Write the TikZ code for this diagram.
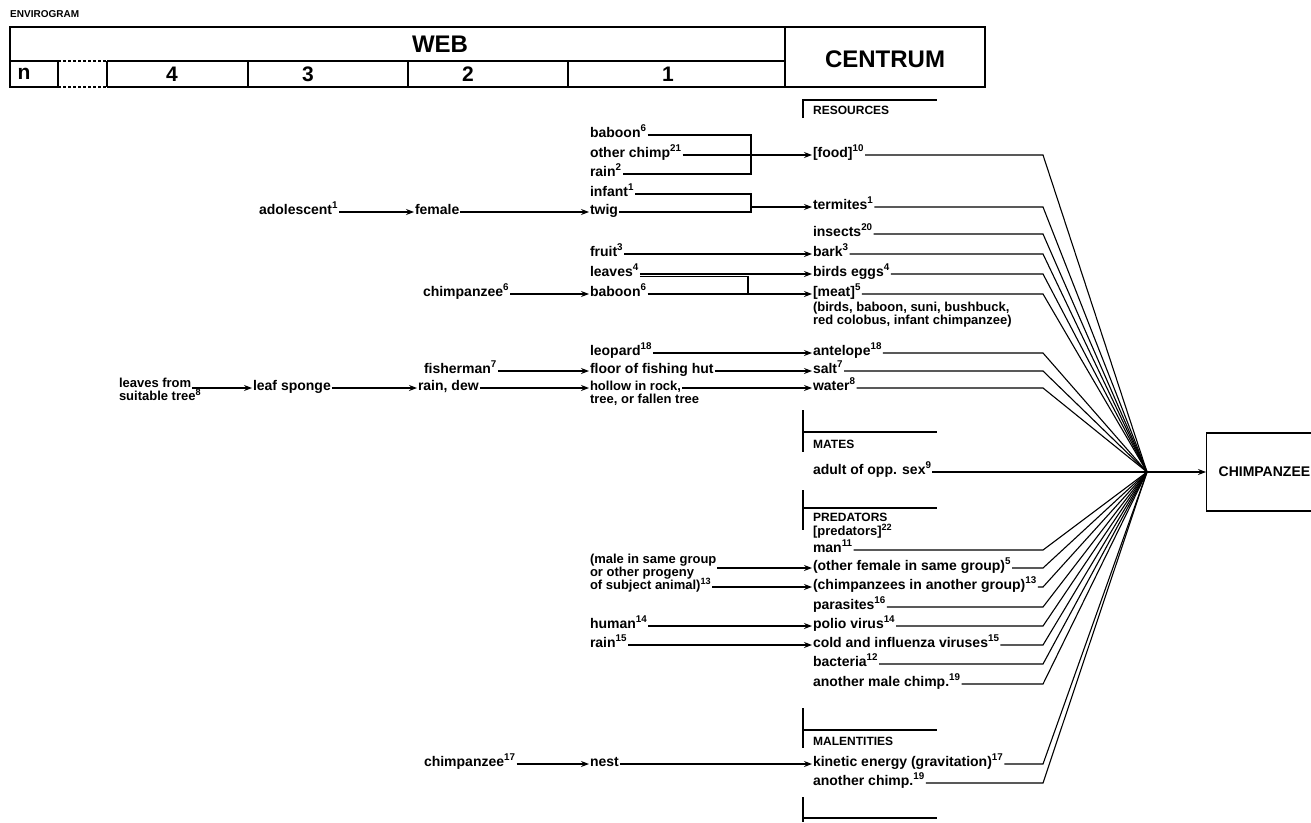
\documentclass[tikz,border=0pt]{standalone}
\usepackage{fontspec}
\setmainfont{Liberation Sans}
\usetikzlibrary{arrows.meta}
\newcommand\sn[1]{\textsuperscript{#1}}
\begin{document}
\begin{tikzpicture}[x=1pt,y=-1pt,
  lbl/.style={anchor=west,inner xsep=1pt,inner ysep=0pt,outer sep=0pt,
    text height=8pt,text depth=4pt,font=\fontsize{14}{14}\selectfont\bfseries},
  sml/.style={lbl,font=\fontsize{13}{13}\selectfont\bfseries},
  hdr/.style={anchor=west,inner sep=0pt,text height=8.6pt,text depth=0pt,
    font=\fontsize{12}{12}\selectfont\bfseries},
  big/.style={inner sep=0pt,font=\fontsize{24}{24}\selectfont\bfseries},
  cell/.style={inner sep=0pt,font=\fontsize{21}{21}\selectfont\bfseries},
  conn/.style={line width=1.1pt},
  arr/.style={conn,-{Stealth[length=8pt,width=6pt]}},
  tbl/.style={line width=1.4pt},
  brk/.style={line width=2.6pt},
  box/.style={draw,line width=1.3pt}]
\useasboundingbox (0,0) rectangle (1311,822);

% ---------- title and table ----------
\node[anchor=west,inner sep=0pt,font=\fontsize{10}{10}\selectfont\bfseries] (envi) at (10,14) {ENVIROGRAM};
\draw[tbl] (58,87) -- (10,87) -- (10,27) -- (985,27) -- (985,87) -- (107,87);
\draw[tbl] (10,61) -- (58,61) (107,61) -- (785,61);
\draw[tbl] (785,27) -- (785,87);
\draw[tbl] (58,61) -- (58,87) (107,61) -- (107,87) (248,61) -- (248,87)
           (408,61) -- (408,87) (568,61) -- (568,87);
\draw[tbl,dash pattern=on 3pt off 2pt] (58,61) -- (107,61) (58,87) -- (107,87);
\node[big] (web) at (440,44) {WEB};
\node[big] (centrum) at (885,59) {CENTRUM};
\node[cell] (cn) at (24,74) {n};
\node[cell] (c4) at (172,74) {4};
\node[cell] (c3) at (308,74) {3};
\node[cell] (c2) at (468,74) {2};
\node[cell] (c1) at (668,74) {1};

% ---------- section brackets ----------
\draw[brk] (803,118) -- (803,100) -- (937,100);
\node[hdr] (res) at (813,110) {RESOURCES};
\draw[brk] (803,410) -- (803,452) (803,432) -- (937,432);
\node[hdr] (mates) at (813,444) {MATES};
\draw[brk] (803,490) -- (803,530) (803,508) -- (937,508);
\node[hdr] (pred) at (813,517) {PREDATORS};
\draw[brk] (803,708) -- (803,748) (803,730) -- (937,730);
\node[hdr] (mal) at (813,741) {MALENTITIES};
\draw[brk] (803,797) -- (803,822) (803,818) -- (937,818);

% ---------- centrum items ----------
\node[lbl] (food) at (812,155) {[food]\sn{10}};
\node[lbl] (termites) at (812,207) {termites\sn{1}};
\node[lbl] (insects) at (812,234) {insects\sn{20}};
\node[lbl] (bark) at (812,254) {bark\sn{3}};
\node[lbl] (eggs) at (812,274) {birds eggs\sn{4}};
\node[lbl] (meat) at (812,294) {[meat]\sn{5}};
\node[sml] (meatA) at (812,309) {(birds, baboon, suni, bushbuck,};
\node[sml] (meatB) at (812,322) {red colobus, infant chimpanzee)};
\node[lbl] (antelope) at (812,353) {antelope\sn{18}};
\node[lbl] (salt) at (812,371) {salt\sn{7}};
\node[lbl] (water) at (812,388) {water\sn{8}};
\node[lbl] (adult) at (812,472) {adult of opp. sex\sn{9}};
\node[sml] (predb) at (812,533) {[predators]\sn{22}};
\node[lbl] (man) at (812,550) {man\sn{11}};
\node[lbl] (ofem) at (812,568) {(other female in same group)\sn{5}};
\node[lbl] (ogrp) at (812,587) {(chimpanzees in another group)\sn{13}};
\node[lbl] (para) at (812,607) {parasites\sn{16}};
\node[lbl] (polio) at (812,626) {polio virus\sn{14}};
\node[lbl] (cold) at (812,645) {cold and influenza viruses\sn{15}};
\node[lbl] (bact) at (812,664) {bacteria\sn{12}};
\node[lbl] (amale) at (812,684) {another male chimp.\sn{19}};
\node[lbl] (kin) at (812,764) {kinetic energy (gravitation)\sn{17}};
\node[lbl] (achimp) at (812,783) {another chimp.\sn{19}};

% ---------- web, column 1 ----------
\node[lbl] (bab1) at (589,135) {baboon\sn{6}};
\node[lbl] (oc) at (589,155) {other chimp\sn{21}};
\node[lbl] (rain2) at (589,174) {rain\sn{2}};
\node[lbl] (inf) at (589,194) {infant\sn{1}};
\node[lbl] (twig) at (589,212) {twig};
\node[lbl] (fruit) at (589,254) {fruit\sn{3}};
\node[lbl] (leaves) at (589,274) {leaves\sn{4}};
\node[lbl] (bab2) at (589,294) {baboon\sn{6}};
\node[lbl] (leop) at (589,353) {leopard\sn{18}};
\node[lbl] (floor) at (589,371) {floor of fishing hut};
\node[sml] (hollow) at (589,388) {hollow in rock,};
\node[sml] (hollowB) at (589,401) {tree, or fallen tree};
\node[sml] (maleA) at (589,561) {(male in same group};
\node[sml] (maleB) at (589,574) {or other progeny};
\node[sml] (maleC) at (589,587) {of subject animal)\sn{13}};
\node[lbl] (human) at (589,626) {human\sn{14}};
\node[lbl] (rain15) at (589,645) {rain\sn{15}};
\node[lbl] (nest) at (589,764) {nest};

% ---------- web, columns 2 to 4 ----------
\node[lbl] (female) at (414,212) {female};
\node[lbl] (chimp6) at (422,294) {chimpanzee\sn{6}};
\node[lbl] (fisher) at (423,371) {fisherman\sn{7}};
\node[lbl] (raindew) at (417,388) {rain, dew};
\node[lbl] (chimp17) at (423,764) {chimpanzee\sn{17}};
\node[lbl] (adol) at (258,212) {adolescent\sn{1}};
\node[lbl] (sponge) at (252,388) {leaf sponge};
\node[sml] (lvA) at (118,385) {leaves from};
\node[sml] (lvB) at (118,398) {suitable tree\sn{8}};

% ---------- the organism ----------
\node[box,anchor=west,minimum width=125pt,minimum height=78pt,inner xsep=12pt,
      align=left,text width=101pt,font=\fontsize{14}{14}\selectfont\bfseries] (chimp) at (1206,472) {CHIMPANZEE};

% ---------- junction points ----------
\coordinate (C) at (1147,472);
\coordinate (bend) at (1043,0);
\coordinate (j1) at (751,0);
\coordinate (j2) at (751,0);
\coordinate (j3) at (748,0);

% ---------- web connectors ----------
\draw[conn] (bab1.east) -| (rain2.east -| j1) -- (rain2.east);
\draw[arr] (oc.east) -- (food.west);
\draw[conn] (inf.east) -| (twig.east -| j2) -- (twig.east);
\draw[arr] (j2 |- termites.west) -- (termites.west);
\draw[arr] (adol.east) -- (female.west);
\draw[arr] (female.east) -- (twig.west);
\draw[arr] (fruit.east) -- (bark.west);
\draw[arr] (leaves.east) -- (eggs.west);
\draw[conn] ([yshift=-2.5pt]leaves.east) -| (bab2.east -| j3);
\draw[arr] (chimp6.east) -- (bab2.west);
\draw[arr] (bab2.east) -- (meat.west);
\draw[arr] (leop.east) -- (antelope.west);
\draw[arr] (fisher.east) -- (floor.west);
\draw[arr] (floor.east) -- (salt.west);
\draw[arr] (lvA.east |- sponge.west) -- (sponge.west);
\draw[arr] (sponge.east) -- (raindew.west);
\draw[arr] (raindew.east) -- (hollow.west);
\draw[arr] (hollow.east) -- (water.west);
\draw[arr] (maleA.east |- ofem.west) -- (ofem.west);
\draw[arr] (maleC.east) -- (ogrp.west);
\draw[arr] (human.east) -- (polio.west);
\draw[arr] (rain15.east) -- (cold.west);
\draw[arr] (chimp17.east) -- (nest.west);
\draw[arr] (nest.east) -- (kin.west);

% ---------- centrum connectors into the organism ----------
\foreach \n in {food,termites,insects,bark,eggs,meat,antelope,salt,water,
                man,ofem,ogrp,para,polio,cold,bact,amale,kin,achimp}
  \draw[conn] (\n.east) -- (\n.east -| bend) -- (C);
\draw[conn] (adult.east) -- (C);
\draw[arr] (C) -- (chimp.west);
\end{tikzpicture}
\end{document}
